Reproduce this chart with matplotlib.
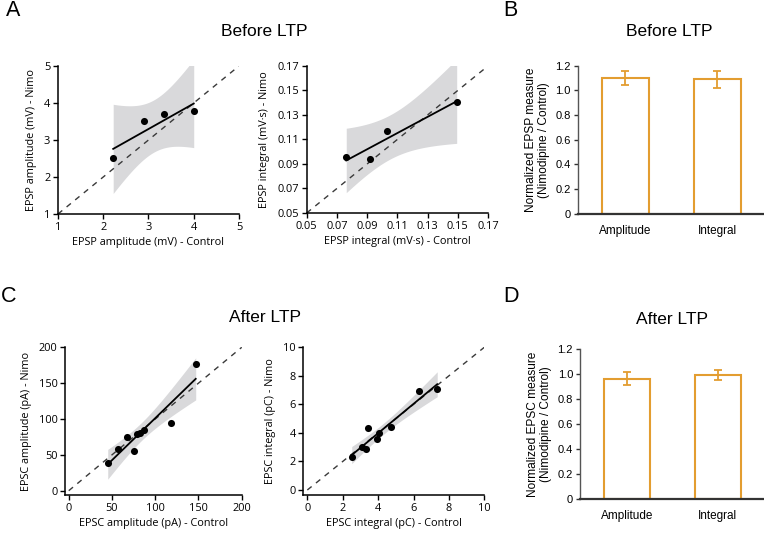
import numpy as np
import matplotlib
matplotlib.use("Agg")
import matplotlib.pyplot as plt

# ---- data ----
amp_ctrl_before = [2.22, 2.90, 3.35, 4.00]
amp_nimo_before = [2.52, 3.52, 3.70, 3.77]
int_ctrl_before = [0.0762, 0.0920, 0.1030, 0.1493]
int_nimo_before = [0.0960, 0.0940, 0.1172, 0.1408]

amp_ctrl_after = [45.1, 56.6, 67.1, 75.8, 78.6, 82.4, 86.7, 118.7, 146.8]
amp_nimo_after = [38.2, 57.7, 75.3, 55.8, 79.1, 80.9, 84.7, 94.9, 177.2]
int_ctrl_after = [2.51, 3.09, 3.30, 3.41, 3.92, 4.07, 4.73, 6.31, 7.34]
int_nimo_after = [2.33, 2.99, 2.90, 4.32, 3.55, 4.02, 4.44, 6.92, 7.10]

bar_labels = ["Amplitude", "Integral"]
before_ratio = [1.10, 1.09]
before_err = [0.06, 0.07]
after_ratio = [0.965, 0.995]
after_err = [0.05, 0.042]

# two-sided 95% t critical values by degrees of freedom
T95 = {2: 4.303, 7: 2.365}

ORANGE = "#E39D30"
BAND = "#D9D9DB"
SCAT_FONT = ["Open Sans", "DejaVu Sans"]
BAR_FONT = ["Liberation Sans", "DejaVu Sans"]

fig = plt.figure(figsize=(7.64, 5.33), dpi=100)


def scatter_panel(rect, x, y, lim, ticks, ticklabels, xlabel, ylabel):
    ax = fig.add_axes(rect)
    x = np.asarray(x)
    y = np.asarray(y)
    slope, icpt = np.polyfit(x, y, 1)
    n = len(x)
    resid = y - (slope * x + icpt)
    s = np.sqrt(np.sum(resid ** 2) / (n - 2))
    sxx = np.sum((x - x.mean()) ** 2)
    xs = np.linspace(x.min(), x.max(), 120)
    yh = slope * xs + icpt
    half = T95[n - 2] * s * np.sqrt(1 / n + (xs - x.mean()) ** 2 / sxx)
    ax.fill_between(xs, yh - half, yh + half, color=BAND, lw=0, zorder=1)
    ax.plot([ticks[0], ticks[-1]], [ticks[0], ticks[-1]], ls=(0, (4, 4)),
            color="#3a3a3a", lw=1.0, zorder=2)
    ax.plot(xs, yh, color="black", lw=1.3, zorder=3)
    ax.scatter(x, y, s=26, color="black", zorder=4, lw=0)
    ax.set_xlim(lim[0], lim[1])
    ax.set_ylim(lim[2], lim[3])
    ax.set_xticks(ticks)
    ax.set_yticks(ticks)
    ax.set_xticklabels(ticklabels, family=SCAT_FONT, fontsize=7.9)
    ax.set_yticklabels(ticklabels, family=SCAT_FONT, fontsize=7.9)
    ax.set_xlabel(xlabel, family=SCAT_FONT, fontsize=7.8, labelpad=3)
    ax.set_ylabel(ylabel, family=SCAT_FONT, fontsize=7.8, labelpad=5)
    for side in ("top", "right"):
        ax.spines[side].set_visible(False)
    for side in ("left", "bottom"):
        ax.spines[side].set_linewidth(1.1)
    ax.tick_params(length=3.5, width=1.0, pad=2, colors="black")
    return ax


def bar_panel(rect, vals, errs, ylabel):
    ax = fig.add_axes(rect)
    pos = np.arange(len(vals))
    ax.bar(pos, vals, width=0.507, facecolor="white", edgecolor=ORANGE,
           lw=1.5, zorder=2)
    ax.errorbar(pos, vals, yerr=errs, fmt="none", ecolor=ORANGE, elinewidth=1.3,
                capsize=3, capthick=1.3, zorder=3)
    ax.set_xlim(-0.517, 1.497)
    ax.set_ylim(0, 1.2)
    yt = [0, 0.2, 0.4, 0.6, 0.8, 1.0, 1.2]
    ax.set_yticks(yt)
    ax.set_yticklabels(["0", "0.2", "0.4", "0.6", "0.8", "1.0", "1.2"],
                       family=BAR_FONT, fontsize=8)
    ax.set_xticks(pos)
    ax.set_xticklabels(bar_labels, family=BAR_FONT, fontsize=8.5)
    ax.tick_params(axis="x", length=0, pad=8)
    ax.tick_params(axis="y", length=3, width=1.0, pad=2, color="#333333")
    ax.set_ylabel(ylabel, family=BAR_FONT, fontsize=8.6, labelpad=4,
                  linespacing=1.1)
    for side in ("top", "right"):
        ax.spines[side].set_visible(False)
    ax.spines["left"].set_color("#555555")
    ax.spines["left"].set_linewidth(1.0)
    ax.spines["bottom"].set_color("#333333")
    ax.spines["bottom"].set_linewidth(1.6)
    return ax


# ---- Before LTP ----
scatter_panel([0.0759, 0.5985, 0.2369, 0.2777], amp_ctrl_before, amp_nimo_before,
              (1, 5, 1, 5), [1, 2, 3, 4, 5], ["1", "2", "3", "4", "5"],
              "EPSP amplitude (mV) - Control", "EPSP amplitude (mV) - Nimo")
int_ticks = [0.05, 0.07, 0.09, 0.11, 0.13, 0.15, 0.17]
scatter_panel([0.4014, 0.6004, 0.2373, 0.2758], int_ctrl_before, int_nimo_before,
              (0.05, 0.17, 0.05, 0.17), int_ticks, ["%.2f" % t for t in int_ticks],
              "EPSP integral (mV\u00b7s) - Control", "EPSP integral (mV\u00b7s) - Nimo")
bar_panel([0.7561, 0.5991, 0.2426, 0.2776], before_ratio, before_err,
          "Normalized EPSP measure\n(Nimodipine / Control)")

# ---- After LTP ----
amp_ticks = [0, 50, 100, 150, 200]
scatter_panel([0.0851, 0.0713, 0.2313, 0.2771], amp_ctrl_after, amp_nimo_after,
              (-4.3, 200, -6.0, 200), amp_ticks, [str(t) for t in amp_ticks],
              "EPSC amplitude (pA) - Control", "EPSC amplitude (pA) - Nimo")
ic_ticks = [0, 2, 4, 6, 8, 10]
scatter_panel([0.3970, 0.0713, 0.2369, 0.2771], int_ctrl_after, int_nimo_after,
              (-0.226, 10, -0.35, 10), ic_ticks, [str(t) for t in ic_ticks],
              "EPSC integral (pC) - Control", "EPSC integral (pC) - Nimo")
bar_panel([0.7592, 0.0644, 0.2395, 0.2803], after_ratio, after_err,
          "Normalized EPSC measure\n(Nimodipine / Control)")

# titles and panel letters
title_kw = dict(family=BAR_FONT, fontsize=12.5, ha="center", va="center")
fig.text(264.5 / 764, 1 - 31 / 533, "Before LTP", **title_kw)
fig.text(669.5 / 764, 1 - 31 / 533, "Before LTP", **title_kw)
fig.text(265 / 764, 1 - 318 / 533, "After LTP", **title_kw)
fig.text(672.5 / 764, 1 - 320 / 533, "After LTP", **title_kw)

letter_kw = dict(family=BAR_FONT, fontsize=15.5, ha="left", va="center")
fig.text(6 / 764, 1 - 11 / 533, "A", **letter_kw)
fig.text(503 / 764, 1 - 11 / 533, "B", **letter_kw)
fig.text(1 / 764, 1 - 297 / 533, "C", **letter_kw)
fig.text(503 / 764, 1 - 297 / 533, "D", **letter_kw)

fig.savefig("out.png", dpi=100)
